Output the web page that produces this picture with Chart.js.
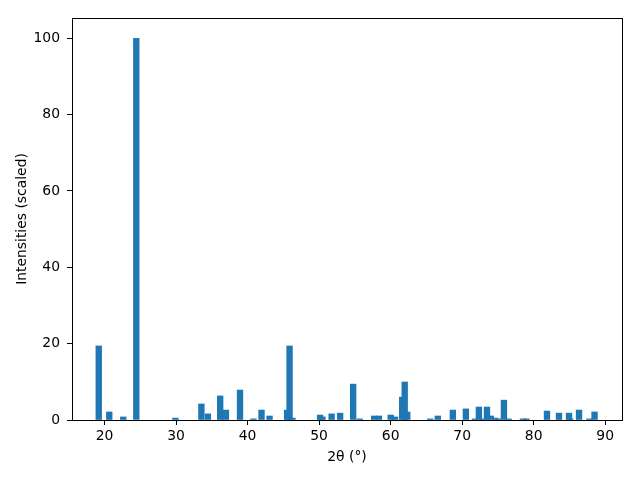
<!DOCTYPE html>
<html>
<head>
<meta charset="utf-8">
<script src="https://cdn.jsdelivr.net/npm/chart.js@4/dist/chart.umd.min.js"></script>
<style>
  html, body { margin: 0; padding: 0; background: #fff; }
  #wrap { width: 640px; height: 480px; }
</style>
</head>
<body>
<div id="wrap"><canvas id="xrd" width="640" height="480"></canvas></div>
<script>
// peak positions (2 theta, degrees) and scaled intensities
const twoTheta = [
  19.19, 20.66, 22.62, 24.44, 29.90, 33.54, 34.45, 36.17, 36.97, 38.94,
  40.83, 41.95, 43.07, 45.52, 45.87, 46.27, 50.14, 50.47, 51.75, 52.94,
  54.76, 55.67, 57.70, 58.37, 60.01, 60.62, 61.62, 61.97, 62.32, 65.55,
  66.60, 68.70, 70.52, 71.80, 72.34, 72.85, 73.47, 74.00, 74.60, 75.10,
  75.84, 76.50, 78.50, 79.00, 81.86, 83.54, 84.94, 85.10, 86.34, 87.80,
  88.51
];
const intensity = [
  19.4, 2.1, 0.8, 100, 0.5, 4.2, 1.6, 6.3, 2.6, 7.85,
  0.3, 2.6, 1.05, 2.6, 19.4, 0.5, 1.3, 0.8, 1.6, 1.8,
  9.4, 0.3, 1.05, 1.05, 1.3, 0.8, 6.0, 9.95, 2.1, 0.3,
  1.05, 2.6, 2.9, 0.3, 3.4, 0.3, 3.4, 1.05, 0.5, 0.3,
  5.2, 0.3, 0.3, 0.3, 2.35, 1.8, 1.8, 0.3, 2.6, 0.3,
  2.1
];
const xTicks = [20, 30, 40, 50, 60, 70, 80, 90];
const yTicks = [0, 20, 40, 60, 80, 100];

const font = { family: 'DejaVu Sans', size: 13.9 };

// top and right spines like matplotlib
const frame = {
  id: 'frame',
  afterDraw(chart) {
    const a = chart.chartArea, ctx = chart.ctx;
    ctx.save();
    ctx.strokeStyle = '#000';
    ctx.lineWidth = 1;
    ctx.strokeRect(a.left + 0.5, a.top + 0.5, a.right - a.left, a.bottom - a.top);
    ctx.restore();
  }
};

new Chart(document.getElementById('xrd'), {
  type: 'bar',
  data: {
    datasets: [{
      data: twoTheta.map((x, i) => ({ x: x, y: intensity[i] })),
      backgroundColor: '#1f77b4',
      borderWidth: 0,
      barThickness: 5.7
    }]
  },
  options: {
    responsive: false,
    animation: false,
    events: [],
    layout: { padding: { top: 18, right: 18, left: 0, bottom: 0 } },
    plugins: { legend: { display: false }, tooltip: { enabled: false } },
    scales: {
      x: {
        type: 'linear',
        offset: false,
        min: 15.45,
        max: 92.35,
        afterBuildTicks: s => { s.ticks = xTicks.map(v => ({ value: v })); },
        afterFit: s => { s.height = 60; },
        grid: { display: true, offset: false, drawOnChartArea: false, drawTicks: true, tickLength: 5, color: '#000' },
        border: { display: true, color: '#000' },
        ticks: { color: '#000', font: font, padding: 3, maxRotation: 0 },
        title: { display: true, text: '2θ (°)', color: '#000', font: font, padding: { top: 0, bottom: 14 } }
      },
      y: {
        min: 0,
        max: 105.3,
        afterBuildTicks: s => { s.ticks = yTicks.map(v => ({ value: v })); },
        afterFit: s => { s.width = 72; },
        grid: { display: true, drawOnChartArea: false, drawTicks: true, tickLength: 5, color: '#000' },
        border: { display: true, color: '#000' },
        ticks: { color: '#000', font: font, padding: 7 },
        title: { display: true, text: 'Intensities (scaled)', color: '#000', font: font, padding: { top: 14, bottom: 0 } }
      }
    }
  },
  plugins: [frame]
});
</script>
</body>
</html>
